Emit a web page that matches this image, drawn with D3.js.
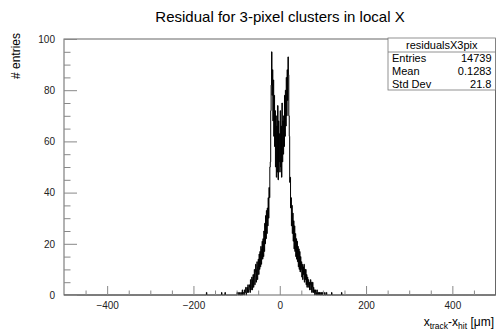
<!DOCTYPE html>
<html>
<head>
<meta charset="utf-8">
<script src="https://cdn.jsdelivr.net/npm/d3@7"></script>
<style>
  html, body { margin: 0; padding: 0; background: #fff; }
  svg { display: block; font-family: "Liberation Sans", Arial, sans-serif; }
</style>
</head>
<body>
<div id="chart"></div>
<script>
// Histogram: 1 um bins over [-500, 500]; dense part listed from -100 to +99
const histMin = -500;
const histMax = 500;
const binWidth = 1;
const coreStart = -100;
const coreCounts = [
  0, 1, 0, 1, 0, 0, 0, 1, 0, 0,          // -100 .. -91
  1, 0, 0, 2, 0, 1, 1, 0, 2, 1,          // -90 .. -81
  1, 3, 0, 1, 3, 1, 4, 1, 2, 3,          // -80 .. -71
  4, 1, 6, 2, 3, 7, 2, 6, 8, 3,          // -70 .. -61
  7, 10, 4, 9, 12, 5, 10, 13, 6, 11,     // -60 .. -51
  14, 8, 16, 10, 17, 11, 19, 12, 18, 21, // -50 .. -41
  14, 22, 15, 25, 17, 28, 20, 31, 22, 33, // -40 .. -31
  24, 34, 27, 38, 30, 42, 38, 50, 52, 72, // -30 .. -21
  82, 95, 78, 88, 68, 84, 62, 78, 58, 72, // -20 .. -11
  50, 70, 46, 66, 48, 74, 45, 68, 52, 63, // -10 .. -1
  48, 72, 50, 66, 46, 75, 52, 68, 55, 70, // 0 .. 9
  58, 78, 62, 80, 66, 85, 70, 88, 76, 93, // 10 .. 19
  86, 70, 62, 44, 46, 34, 38, 27, 35, 24, // 20 .. 29
  32, 21, 29, 18, 27, 17, 24, 15, 22, 14, // 30 .. 39
  21, 13, 19, 11, 18, 10, 17, 9, 15, 10, // 40 .. 49
  13, 7, 12, 6, 11, 8, 12, 5, 10, 6,     // 50 .. 59
  10, 4, 8, 3, 7, 4, 6, 3, 5, 2,         // 60 .. 69
  4, 6, 2, 5, 1, 3, 5, 1, 3, 1,          // 70 .. 79
  2, 0, 2, 1, 0, 1, 2, 0, 1, 1,          // 80 .. 89
  0, 1, 0, 1, 0, 0, 1, 0, 0, 1           // 90 .. 99
];
// isolated entries in the far tails
const tailX = [-170, -135, -127, 104, 108, 120, 143];
const tailCounts = [1, 1, 1, 1, 1, 1, 1];

const xMajorTicks = [-400, -200, 0, 200, 400];
const xMinorTicks = [-450, -350, -300, -250, -150, -100, -50, 50, 100, 150, 250, 300, 350, 450];
const yMajorTicks = [0, 20, 40, 60, 80, 100];
const yMinorTicks = [5, 10, 15, 25, 30, 35, 45, 50, 55, 65, 70, 75, 85, 90, 95];

const statsName = 'residualsX3pix';
const statsLabels = ['Entries', 'Mean', 'Std Dev'];
const statsValues = ['14739', '0.1283', '21.8'];

// build full bin list
const nBins = Math.round((histMax - histMin) / binWidth);
const bins = d3.range(nBins).map(i => ({ lo: histMin + i * binWidth, hi: histMin + (i + 1) * binWidth, n: 0 }));
coreCounts.forEach((c, i) => { bins[Math.round((coreStart - histMin) / binWidth) + i].n = c; });
tailX.forEach((xv, i) => { bins[Math.round((xv - histMin) / binWidth)].n = tailCounts[i]; });

const width = 496, height = 331;
const margin = { left: 64, right: 0.5, top: 39, bottom: 36 };

const svg = d3.select('#chart').append('svg')
  .attr('width', width)
  .attr('height', height);

const x = d3.scaleLinear().domain([histMin, histMax]).range([margin.left, width - margin.right]);
const y = d3.scaleLinear().domain([0, 100]).range([height - margin.bottom, margin.top]);

// title
svg.append('text')
  .attr('x', 280)
  .attr('y', 22)
  .attr('text-anchor', 'middle')
  .attr('font-size', '15px')
  .attr('fill', '#000')
  .text('Residual for 3-pixel clusters in local X');

// histogram step line
const pts = [[histMin, 0]];
bins.forEach(b => { pts.push([b.lo, b.n]); pts.push([b.hi, b.n]); });
pts.push([histMax, 0]);

svg.append('path')
  .datum(pts)
  .attr('fill', 'none')
  .attr('stroke', '#000')
  .attr('stroke-width', 1)
  .attr('d', d3.line().x(d => x(d[0])).y(d => y(d[1])));

// frame
svg.append('rect')
  .attr('x', x(histMin))
  .attr('y', y(100))
  .attr('width', x(histMax) - x(histMin))
  .attr('height', y(0) - y(100))
  .attr('fill', 'none')
  .attr('stroke', '#666')
  .attr('stroke-width', 1);

// axes
const gx = svg.append('g').attr('transform', `translate(0,${y(0)})`);
gx.call(d3.axisBottom(x).tickValues(xMajorTicks).tickSize(-9).tickPadding(7)
  .tickFormat(d => d < 0 ? '\u2212' + Math.abs(d) : d));
const gxm = svg.append('g').attr('transform', `translate(0,${y(0)})`);
gxm.call(d3.axisBottom(x).tickValues(xMinorTicks).tickSize(-4.5).tickFormat(''));

const gy = svg.append('g').attr('transform', `translate(${x(histMin)},0)`);
gy.call(d3.axisLeft(y).tickValues(yMajorTicks).tickSize(-13).tickPadding(9));
const gym = svg.append('g').attr('transform', `translate(${x(histMin)},0)`);
gym.call(d3.axisLeft(y).tickValues(yMinorTicks).tickSize(-6.5).tickFormat(''));

[gx, gxm, gy, gym].forEach(g => {
  g.select('.domain').remove();
  g.selectAll('.tick line').attr('stroke', '#888').attr('stroke-width', 1);
  g.selectAll('.tick text').attr('font-size', '10px').attr('fill', '#222')
    .attr('font-family', '"Liberation Sans", Arial, sans-serif');
});

// axis titles
svg.append('text')
  .attr('transform', 'translate(20,33) rotate(-90)')
  .attr('text-anchor', 'end')
  .attr('font-size', '12px')
  .text('# entries');

const xt = svg.append('text')
  .attr('x', 494)
  .attr('y', 326)
  .attr('text-anchor', 'end')
  .attr('font-size', '12px');
xt.append('tspan').text('x');
xt.append('tspan').attr('font-size', '8.5px').attr('dy', 3).text('track');
xt.append('tspan').attr('dy', -3).text('-x');
xt.append('tspan').attr('font-size', '8.5px').attr('dy', 3).text('hit');
xt.append('tspan').attr('dy', -3).text(' [\u03bcm]');

// stats box
const sb = { x0: 388, x1: 495.5, y0: 38, y1: 90, head: 52 };
const stats = svg.append('g');
stats.append('rect')
  .attr('x', sb.x0).attr('y', sb.y0)
  .attr('width', sb.x1 - sb.x0).attr('height', sb.y1 - sb.y0)
  .attr('fill', '#fff').attr('stroke', '#777').attr('stroke-width', 0.8);
stats.append('line')
  .attr('x1', sb.x0).attr('x2', sb.x1).attr('y1', sb.head).attr('y2', sb.head)
  .attr('stroke', '#777').attr('stroke-width', 0.8);
stats.append('text')
  .attr('x', (sb.x0 + sb.x1) / 2).attr('y', sb.head - 3)
  .attr('text-anchor', 'middle').attr('font-size', '11px')
  .text(statsName);
const rowH = (sb.y1 - sb.head) / statsLabels.length;
statsLabels.forEach((lab, i) => {
  const yy = sb.head + rowH * (i + 1) - 2.5;
  stats.append('text').attr('x', sb.x0 + 4).attr('y', yy).attr('font-size', '11px').text(lab);
  stats.append('text').attr('x', sb.x1 - 4).attr('y', yy).attr('text-anchor', 'end')
    .attr('font-size', '11px').text(statsValues[i]);
});
</script>
</body>
</html>
